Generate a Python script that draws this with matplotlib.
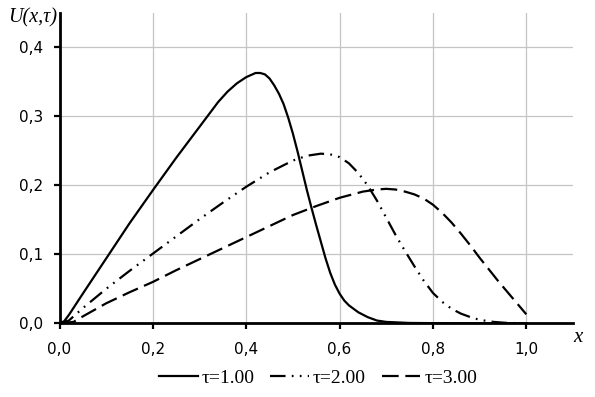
import matplotlib
matplotlib.use("Agg")
import matplotlib.pyplot as plt
from matplotlib.ticker import FuncFormatter

# --- data ---
x_t1 = [0.0, 0.01, 0.02, 0.05, 0.1, 0.15, 0.2, 0.25, 0.3, 0.32, 0.34, 0.36,
        0.38, 0.4, 0.42, 0.43, 0.44, 0.45, 0.46, 0.47, 0.48, 0.49, 0.5, 0.51,
        0.52, 0.53, 0.54, 0.55, 0.56, 0.57, 0.58, 0.59, 0.6, 0.61, 0.62, 0.64,
        0.66, 0.68, 0.7, 0.75, 0.85, 1.0]
y_t1 = [0.0, 0.003, 0.012, 0.043, 0.094, 0.145, 0.193, 0.240, 0.285, 0.303,
        0.321, 0.336, 0.348, 0.357, 0.363, 0.363, 0.361, 0.355, 0.345, 0.333,
        0.318, 0.298, 0.275, 0.249, 0.221, 0.193, 0.167, 0.142, 0.118, 0.094,
        0.073, 0.056, 0.043, 0.033, 0.026, 0.016, 0.009, 0.004, 0.002, 0.0005,
        0.0, 0.0]

x_t2 = [0.0, 0.02, 0.05, 0.1, 0.15, 0.2, 0.25, 0.3, 0.35, 0.4, 0.45, 0.5, 0.53,
        0.56, 0.58, 0.6, 0.62, 0.64, 0.66, 0.68, 0.7, 0.72, 0.74, 0.76, 0.78,
        0.8, 0.82, 0.84, 0.86, 0.88, 0.9, 0.93, 0.96, 1.0]
y_t2 = [0.0, 0.004, 0.022, 0.050, 0.076, 0.101, 0.126, 0.151, 0.175, 0.198,
        0.219, 0.236, 0.243, 0.246, 0.245, 0.241, 0.232, 0.218, 0.200, 0.178,
        0.153, 0.128, 0.105, 0.083, 0.062, 0.044, 0.031, 0.021, 0.014, 0.009,
        0.005, 0.002, 0.0005, 0.0]

x_t3 = [0.0, 0.03, 0.05, 0.1, 0.15, 0.2, 0.25, 0.3, 0.35, 0.4, 0.45, 0.5, 0.55,
        0.6, 0.65, 0.68, 0.7, 0.72, 0.74, 0.76, 0.78, 0.8, 0.82, 0.84, 0.86,
        0.88, 0.9, 0.92, 0.94, 0.96, 0.98, 1.0]
y_t3 = [0.0, 0.002, 0.010, 0.029, 0.045, 0.060, 0.077, 0.093, 0.109, 0.125,
        0.141, 0.157, 0.170, 0.182, 0.191, 0.194, 0.195, 0.194, 0.191, 0.187,
        0.181, 0.172, 0.160, 0.146, 0.130, 0.113, 0.095, 0.078, 0.061, 0.045,
        0.029, 0.013]

labels = ["τ=1.00", "τ=2.00", "τ=3.00"]
x_ticks = [0.0, 0.2, 0.4, 0.6, 0.8, 1.0]
y_ticks = [0.0, 0.1, 0.2, 0.3, 0.4]

W, H = 595, 397
fig = plt.figure(figsize=(W / 100, H / 100), dpi=100)
ax = fig.add_axes([59.5 / W, 1 - 323.3 / H, (573 - 59.5) / W, (323.3 - 13) / H])

ax.set_xlim(0, 1.1)
ax.set_ylim(0, 0.45)
ax.set_xticks(x_ticks)
ax.set_yticks(y_ticks)
fmt = FuncFormatter(lambda v, p: f"{v:.1f}".replace(".", ","))
ax.xaxis.set_major_formatter(fmt)
ax.yaxis.set_major_formatter(fmt)

ax.grid(True, color="#c4c4c4", linewidth=0.9, zorder=0)
ax.set_axisbelow(True)
for s in ["top", "right"]:
    ax.spines[s].set_visible(False)
for s in ["left", "bottom"]:
    ax.spines[s].set_linewidth(2.0)
    ax.spines[s].set_color("black")
    ax.spines[s].set_zorder(5)

ax.tick_params(axis="both", direction="out", length=4.5, width=1.6,
               labelsize=11, colors="black")
ax.tick_params(axis="y", pad=7)
ax.tick_params(axis="x", pad=9)

lw = 1.6
ax.plot(x_t1, y_t1, color="black", lw=lw, linestyle="-", label=labels[0],
        zorder=3, solid_joinstyle="round")
ax.plot(x_t2, y_t2, color="black", lw=lw,
        linestyle=(0, (7.0, 2.8, 0.8, 2.8, 0.8, 2.8)), label=labels[1],
        zorder=3)
ax.plot(x_t3, y_t3, color="black", lw=lw, linestyle=(0, (7.5, 3.0)),
        label=labels[2], zorder=3)

serif = "Liberation Serif"
fig.text(8 / W, 1 - 18 / H, "U(x,τ)", fontsize=14.5, family=serif,
         style="italic", ha="left", va="center")
fig.text(578 / W, 1 - 337 / H, "x", fontsize=15, family=serif,
         style="italic", ha="center", va="center")

handles, labs = ax.get_legend_handles_labels()
fig.legend(handles, labs, loc="center", bbox_to_anchor=(318 / W, 1 - 378 / H),
           ncol=3, frameon=False, prop={"family": serif, "size": 14},
           handlelength=2.0, handletextpad=0.2, columnspacing=0.8,
           borderpad=0.1)

fig.savefig("out.png", dpi=100)
